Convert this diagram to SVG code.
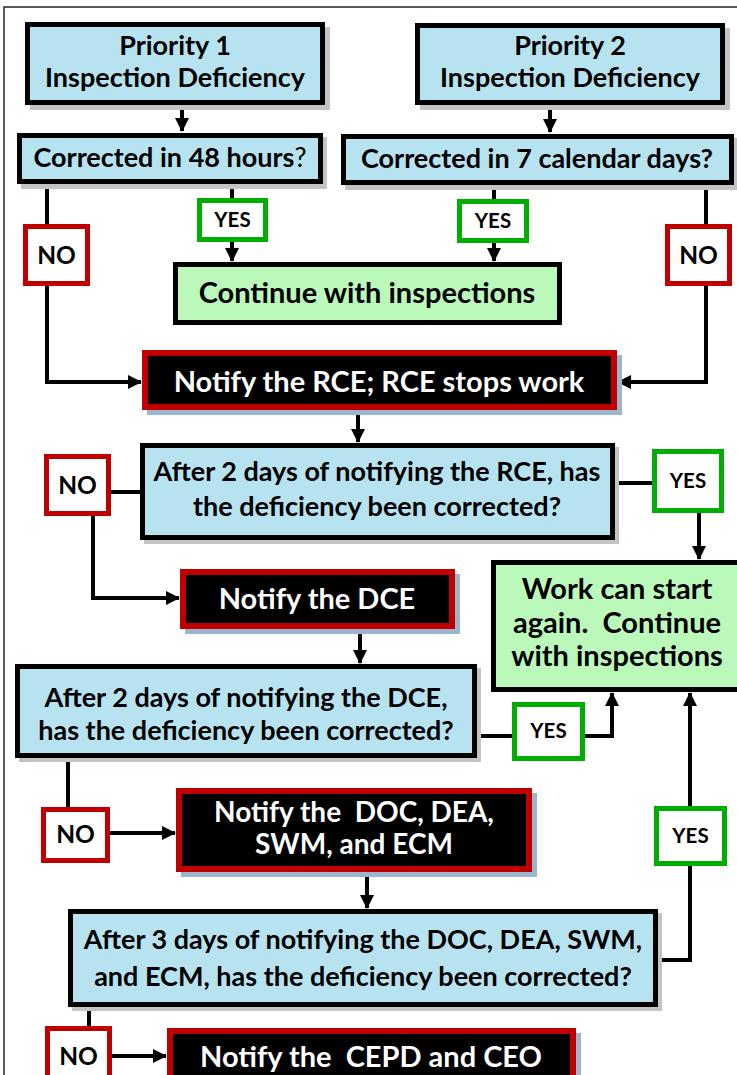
<svg xmlns="http://www.w3.org/2000/svg" width="737" height="1075" viewBox="0 0 737 1075">
<defs>
<style>
text{font-family:Lato,"Liberation Sans",sans-serif;font-weight:bold;text-anchor:middle;fill:#000}
.blue{fill:#b7e3f0;stroke:#000;stroke-width:5}
.green{fill:#bbf9bb;stroke:#000;stroke-width:5}
.black{fill:#000;stroke:#c00000;stroke-width:6}
.yes{fill:#fff;stroke:#00ad00;stroke-width:5}
.no{fill:#fff;stroke:#c00000;stroke-width:5}
.sh{fill:#c4c4c4}
.shb{fill:#9bb5cc}
.w{fill:#fff}
.q{font-size:27px}
.big{font-size:29px}
.big2{font-size:28px}
.lbl{font-size:20.5px}
.nol{font-size:24.5px}
#connectors path{fill:none;stroke:#000;stroke-width:4}
</style>
<marker id="ah" markerUnits="userSpaceOnUse" markerWidth="14" markerHeight="14" viewBox="0 0 14 14" refX="13" refY="7" orient="auto">
<path d="M0,0 L14,7 L0,14 Z" fill="#000"/>
</marker>
</defs>
<rect width="737" height="1075" fill="#fff"/>
<path d="M4,1075 V7 H737" fill="none" stroke="#222" stroke-width="1.5"/>

<g id="connectors">
<path d="M182,105 V131" marker-end="url(#ah)"/>
<path d="M550,105 V132" marker-end="url(#ah)"/>
<path d="M232,184 V198"/>
<path d="M232,242 V261" marker-end="url(#ah)"/>
<path d="M47,184 V224"/>
<path d="M47,286 V382 H141" marker-end="url(#ah)"/>
<path d="M494,185 V199"/>
<path d="M494,243 V261" marker-end="url(#ah)"/>
<path d="M706,185 V224"/>
<path d="M706,286 V382 H618" marker-end="url(#ah)"/>
<path d="M358,410 V442" marker-end="url(#ah)"/>
<path d="M111,492 H140"/>
<path d="M93,516 V598 H179" marker-end="url(#ah)"/>
<path d="M615,483 H652"/>
<path d="M699,513 V559" marker-end="url(#ah)"/>
<path d="M360,629 V663" marker-end="url(#ah)"/>
<path d="M477,736 H512"/>
<path d="M585,736 H612 V693" marker-end="url(#ah)"/>
<path d="M68,758 V807"/>
<path d="M110,833 H175" marker-end="url(#ah)"/>
<path d="M367,872 V908" marker-end="url(#ah)"/>
<path d="M658,960 H690 V866"/>
<path d="M690,806 V693" marker-end="url(#ah)"/>
<path d="M89,1007 V1026"/>
<path d="M112,1056 H166" marker-end="url(#ah)"/>
</g>

<g id="p1">
<rect class="sh" x="30" y="27" width="300" height="83"/>
<rect class="blue" x="27.5" y="24.5" width="295" height="78"/>
<text class="q" x="175" y="55">Priority 1</text>
<text class="q" x="175" y="87">Inspection Deficiency</text>
</g>
<g id="p2">
<rect class="sh" x="420" y="28" width="310" height="82"/>
<rect class="blue" x="417.5" y="25.5" width="305" height="77"/>
<text class="q" x="570" y="55">Priority 2</text>
<text class="q" x="570" y="87">Inspection Deficiency</text>
</g>
<g id="c48">
<rect class="sh" x="21" y="137" width="306" height="52"/>
<rect class="blue" x="19.5" y="135.5" width="301" height="46"/>
<text class="q" x="170" y="167">Corrected in 48 hours<tspan font-weight="normal">?</tspan></text>
</g>
<g id="c7">
<rect class="sh" x="345" y="138" width="393" height="52"/>
<rect class="blue" x="343.5" y="136.5" width="388" height="46"/>
<text class="q" x="537" y="168">Corrected in 7 calendar days?</text>
</g>
<g id="yes1">
<rect class="yes" x="199.5" y="200.5" width="66" height="39"/>
<text class="lbl" x="232.5" y="227">YES</text>
</g>
<g id="no1">
<rect class="no" x="25.5" y="226.5" width="62" height="57"/>
<text class="nol" x="56.5" y="264">NO</text>
</g>
<g id="cont">
<rect class="green" x="175.5" y="264.5" width="384" height="58"/>
<text class="big" x="367" y="303">Continue with inspections</text>
</g>
<g id="yes2">
<rect class="yes" x="459.5" y="201.5" width="67" height="39"/>
<text class="lbl" x="493" y="228">YES</text>
</g>
<g id="no2">
<rect class="no" x="667.5" y="226.5" width="62" height="57"/>
<text class="nol" x="698.5" y="264">NO</text>
</g>
<g id="rce">
<rect class="shb" x="147" y="355" width="475" height="60"/>
<rect class="black" x="145" y="353" width="469" height="54"/>
<text class="big w" x="379" y="392">Notify the RCE; RCE stops work</text>
</g>
<g id="q1">
<rect class="sh" x="144" y="447" width="475" height="97"/>
<rect class="blue" x="142.5" y="445.5" width="470" height="92"/>
<text class="q" x="377" y="481">After 2 days of notifying the RCE, has</text>
<text class="q" x="377" y="516">the deficiency been corrected?</text>
</g>
<g id="no3">
<rect class="no" x="46.5" y="456.5" width="62" height="57"/>
<text class="nol" x="77.5" y="494">NO</text>
</g>
<g id="yes3">
<rect class="yes" x="654.5" y="451.5" width="67" height="59"/>
<text class="lbl" x="688" y="488">YES</text>
</g>
<g id="work">
<rect class="green" x="493.5" y="562.5" width="254" height="127"/>
<text class="big" x="617" y="599">Work can start</text>
<text class="big" x="617" y="633" xml:space="preserve">again.  Continue</text>
<text class="big" x="617" y="666">with inspections</text>
</g>
<g id="dce">
<rect class="shb" x="185" y="574" width="275" height="60"/>
<rect class="black" x="183" y="572" width="269" height="54"/>
<text class="big w" x="317" y="609">Notify the DCE</text>
</g>
<g id="q2">
<rect class="sh" x="19" y="668" width="462" height="94"/>
<rect class="blue" x="17.5" y="666.5" width="457" height="89"/>
<text class="q" x="246" y="707">After 2 days of notifying the DCE,</text>
<text class="q" x="246" y="740">has the deficiency been corrected?</text>
</g>
<g id="yes4">
<rect class="yes" x="514.5" y="704.5" width="68" height="54"/>
<text class="lbl" x="548.5" y="738">YES</text>
</g>
<g id="no4">
<rect class="no" x="43.5" y="809.5" width="64" height="51"/>
<text class="nol" x="75.5" y="843">NO</text>
</g>
<g id="doc">
<rect class="shb" x="181" y="793" width="356" height="84"/>
<rect class="black" x="179" y="791" width="350" height="78"/>
<text class="big2 w" x="354" y="822" xml:space="preserve">Notify the  DOC, DEA,</text>
<text class="big2 w" x="354" y="854">SWM, and ECM</text>
</g>
<g id="yes5">
<rect class="yes" x="656.5" y="808.5" width="68" height="55"/>
<text class="lbl" x="690.5" y="843">YES</text>
</g>
<g id="q3">
<rect class="sh" x="72" y="913" width="590" height="98"/>
<rect class="blue" x="70.5" y="911.5" width="585" height="93"/>
<text class="q" x="363" y="949">After 3 days of notifying the DOC, DEA, SWM,</text>
<text class="q" x="363" y="986">and ECM, has the deficiency been corrected?</text>
</g>
<g id="no5">
<rect class="no" x="47.5" y="1028.5" width="62" height="60"/>
<text class="nol" x="78.5" y="1065">NO</text>
</g>
<g id="cepd">
<rect class="shb" x="172" y="1033" width="409" height="60"/>
<rect class="black" x="170" y="1031" width="403" height="60"/>
<text class="big w" x="371" y="1067" xml:space="preserve">Notify the  CEPD and CEO</text>
</g>
</svg>
